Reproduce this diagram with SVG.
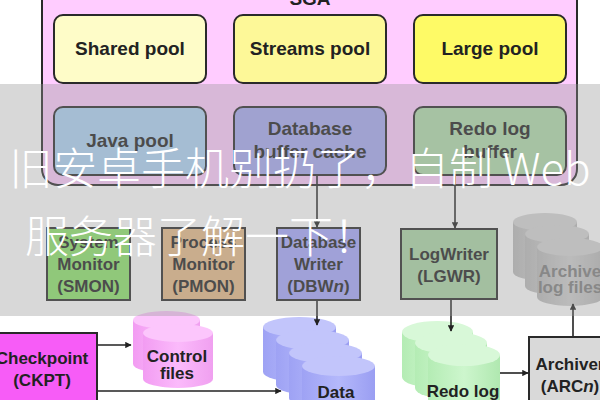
<svg xmlns="http://www.w3.org/2000/svg" width="600" height="400" viewBox="0 0 600 400">
<style>
.pool{stroke:#2a2a2a;stroke-width:2}
.proc{stroke:#2a2a2a;stroke-width:2}
.t{font-family:"Liberation Sans",Arial,sans-serif;font-weight:bold;fill:#222;text-anchor:middle}
.big{font-size:19px}
.sm{font-size:17px}
.conn{stroke:#222;stroke-width:1.6;fill:none}
.cjk{font-family:"Noto Sans CJK SC",sans-serif;font-weight:300;font-size:44px;fill:#fff}
</style>
<defs>
<marker id="ah" viewBox="0 0 10 10" refX="9" refY="5" markerWidth="4" markerHeight="4" orient="auto" markerUnits="strokeWidth">
<path d="M0,0 L10,5 L0,10 z" fill="#222"/>
</marker>
<linearGradient id="gBlue" x1="0" x2="1"><stop offset="0" stop-color="#9ea2f4"/><stop offset="0.5" stop-color="#b4b8fb"/><stop offset="1" stop-color="#9a9ef2"/></linearGradient>
<linearGradient id="gGreen" x1="0" x2="1"><stop offset="0" stop-color="#b4ecb4"/><stop offset="0.5" stop-color="#cdf6cd"/><stop offset="1" stop-color="#b0e8b0"/></linearGradient>
<linearGradient id="gPink" x1="0" x2="1"><stop offset="0" stop-color="#f29cf2"/><stop offset="0.5" stop-color="#fbbafb"/><stop offset="1" stop-color="#f0a0f0"/></linearGradient>
<linearGradient id="gGray" x1="0" x2="1"><stop offset="0" stop-color="#bcbcbc"/><stop offset="0.5" stop-color="#d2d2d2"/><stop offset="1" stop-color="#bababa"/></linearGradient>
</defs>
<rect width="600" height="400" fill="#fff"/>

<g id="sga">
<rect x="42" y="-30" width="535" height="215" rx="16" fill="#ffccff" stroke="#2a2a2a" stroke-width="2"/>
<text class="t big" x="310" y="5">SGA</text>
</g>
<g id="shared-pool"><rect class="pool" x="54" y="15" width="152" height="68" rx="9" fill="#fefcc8"/><text class="t big" x="130" y="55">Shared pool</text></g>
<g id="streams-pool"><rect class="pool" x="234" y="15" width="152" height="68" rx="9" fill="#fdf898"/><text class="t big" x="310" y="55">Streams pool</text></g>
<g id="large-pool"><rect class="pool" x="414" y="15" width="152" height="68" rx="9" fill="#fefa66"/><text class="t big" x="490" y="55">Large pool</text></g>
<g id="java-pool"><rect class="pool" x="54" y="107" width="152" height="68" rx="9" fill="#aed4f8"/><text class="t big" x="130" y="147">Java pool</text></g>
<g id="db-buffer-cache"><rect class="pool" x="234" y="107" width="152" height="68" rx="9" fill="#a7aaf3"/><text class="t big" x="310" y="135">Database</text><text class="t big" x="310" y="158">buffer cache</text></g>
<g id="redo-log-buffer"><rect class="pool" x="414" y="107" width="152" height="68" rx="9" fill="#b0dcac"/><text class="t big" x="490" y="135">Redo log</text><text class="t big" x="490" y="158">buffer</text></g>

<g id="smon"><rect class="proc" x="47" y="228" width="83" height="72" fill="#8de66b"/><text class="t sm" x="88.5" y="248">System</text><text class="t sm" x="88.5" y="270">Monitor</text><text class="t sm" x="88.5" y="292">(SMON)</text></g>
<g id="pmon"><rect class="proc" x="162" y="228" width="83" height="72" fill="#e8bb89"/><text class="t sm" x="203.5" y="248">Process</text><text class="t sm" x="203.5" y="270">Monitor</text><text class="t sm" x="203.5" y="292">(PMON)</text></g>
<g id="dbwn"><rect class="proc" x="277" y="228" width="83" height="72" fill="#a6a9ff"/><text class="t sm" x="318.5" y="248">Database</text><text class="t sm" x="318.5" y="270">Writer</text><text class="t sm" x="318.5" y="292">(DBW<tspan font-style="italic">n</tspan>)</text></g>
<g id="lgwr"><rect class="proc" x="401" y="229" width="96" height="70" fill="#abd7a6"/><text class="t sm" x="449" y="260">LogWriter</text><text class="t sm" x="449" y="282">(LGWR)</text></g>

<g id="archive-log-files">
<path d="M513,222 v50 a32,9 0 0 0 64,0 v-50 z" fill="url(#gGray)"/><ellipse cx="545" cy="222" rx="32" ry="9" fill="#d6d6d6"/>
<path d="M525,234 v52 a32,9 0 0 0 64,0 v-52 z" fill="url(#gGray)"/><ellipse cx="557" cy="234" rx="32" ry="9" fill="#d6d6d6"/>
<path d="M537,247 v50 a33,9 0 0 0 66,0 v-50 z" fill="url(#gGray)"/><ellipse cx="570" cy="247" rx="33" ry="9" fill="#d6d6d6"/>
<text class="t sm" x="570" y="277" style="fill:#808080">Archive</text><text class="t sm" x="570" y="293" style="fill:#808080">log files</text>
</g>

<g id="ckpt"><rect class="proc" x="-13" y="333" width="110" height="80" fill="#f75cf7"/><text class="t sm" x="42" y="364">Checkpoint</text><text class="t sm" x="42" y="386">(CKPT)</text></g>

<g id="control-files">
<path d="M133,320 v44 a33.5,9 0 0 0 67,0 v-44 z" fill="url(#gPink)"/><ellipse cx="166.5" cy="320" rx="33.5" ry="9" fill="#fcc6fc"/>
<path d="M143,333 v46 a35,9 0 0 0 70,0 v-46 z" fill="url(#gPink)"/><ellipse cx="178" cy="333" rx="35" ry="9" fill="#fcc6fc"/>
<text class="t sm" x="177" y="362">Control</text><text class="t sm" x="177" y="379">files</text>
</g>

<g id="data-files">
<path d="M263,327 v45 a36.5,10 0 0 0 73,0 v-45 z" fill="url(#gBlue)"/><ellipse cx="299.5" cy="327" rx="36.5" ry="10" fill="#c2c5fb"/>
<path d="M276,340 v45 a36.5,10 0 0 0 73,0 v-45 z" fill="url(#gBlue)"/><ellipse cx="312.5" cy="340" rx="36.5" ry="10" fill="#c2c5fb"/>
<path d="M289,353 v45 a36.5,10 0 0 0 73,0 v-45 z" fill="url(#gBlue)"/><ellipse cx="325.5" cy="353" rx="36.5" ry="10" fill="#c2c5fb"/>
<path d="M302,366 v45 a36.5,10 0 0 0 73,0 v-45 z" fill="url(#gBlue)"/><ellipse cx="338.5" cy="366" rx="36.5" ry="10" fill="#c2c5fb"/>
<text class="t sm" x="336" y="398">Data</text>
</g>

<g id="redo-log-files">
<path d="M402,332 v45 a35.5,11 0 0 0 71,0 v-45 z" fill="url(#gGreen)"/><ellipse cx="437.5" cy="332" rx="35.5" ry="11" fill="#d8f8d8"/>
<path d="M415,343 v45 a36,11 0 0 0 72,0 v-45 z" fill="url(#gGreen)"/><ellipse cx="451" cy="343" rx="36" ry="11" fill="#d8f8d8"/>
<path d="M428,355 v50 a36,11 0 0 0 72,0 v-50 z" fill="url(#gGreen)"/><ellipse cx="464" cy="355" rx="36" ry="11" fill="#d8f8d8"/>
<text class="t sm" x="463" y="397">Redo log</text>
</g>

<g id="arcn"><rect class="proc" x="529" y="337" width="90" height="80" fill="#d9d9d9"/><text class="t sm" x="570" y="370">Archiver</text><text class="t sm" x="570" y="392">(ARC<tspan font-style="italic">n</tspan>)</text></g>

<g id="connectors">
<line class="conn" x1="317" y1="176" x2="317" y2="227" marker-end="url(#ah)"/>
<line class="conn" x1="455" y1="176" x2="455" y2="228" marker-end="url(#ah)"/>
<line class="conn" x1="317" y1="301" x2="317" y2="325" marker-end="url(#ah)"/>
<line class="conn" x1="451" y1="300" x2="451" y2="331" marker-end="url(#ah)"/>
<line class="conn" x1="98" y1="345" x2="131" y2="345" marker-end="url(#ah)"/>
<line class="conn" x1="98" y1="391" x2="281" y2="391" marker-end="url(#ah)"/>
<line class="conn" x1="500" y1="373" x2="528" y2="373" marker-end="url(#ah)"/>
<line class="conn" x1="573" y1="336" x2="573" y2="304" marker-end="url(#ah)"/>
</g>

<g id="overlay">
<rect x="0" y="84" width="600" height="232" fill="rgb(150,150,150)" fill-opacity="0.37"/>
<text class="cjk" x="9" y="185">旧安卓手机别扔了，自制 Web</text>
<text class="cjk" x="25" y="253">服务器了解一下！</text>
</g>
</svg>
